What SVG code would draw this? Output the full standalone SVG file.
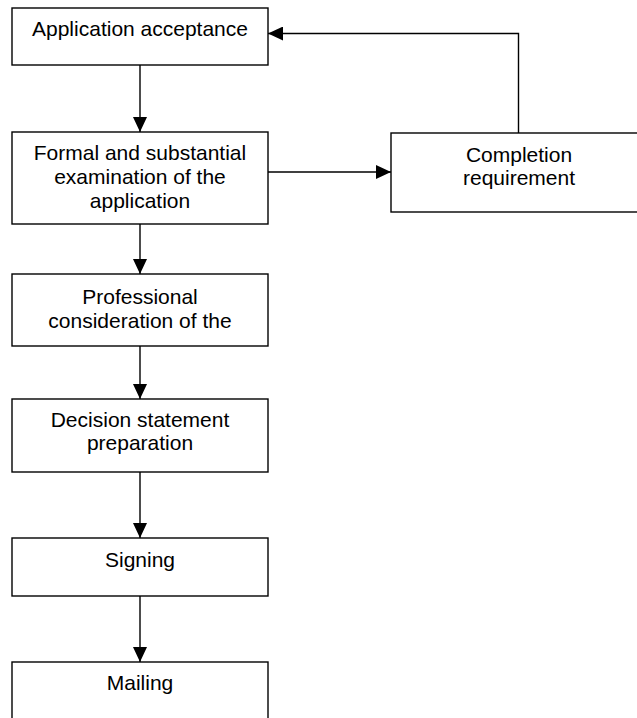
<svg xmlns="http://www.w3.org/2000/svg" width="637" height="718" viewBox="0 0 637 718">
  <style>
    .box { fill: #ffffff; stroke: #000000; stroke-width: 1.4; }
    .lbl { font-family: "Liberation Sans", Arial, sans-serif; font-size: 21px; fill: #000000; text-anchor: middle; }
    .conn { fill: none; stroke: #000000; stroke-width: 1.4; }
  </style>
  <defs>
    <marker id="arrow" viewBox="0 0 15 14" refX="15" refY="7" markerWidth="15" markerHeight="14" markerUnits="userSpaceOnUse" orient="auto">
      <path d="M0,0 L15,7 L0,14 Z" fill="#000000"/>
    </marker>
  </defs>
  <rect width="637" height="718" fill="#ffffff"/>

  <g id="connectors">
    <line class="conn" x1="140" y1="65" x2="140" y2="132" marker-end="url(#arrow)"/>
    <line class="conn" x1="140" y1="224" x2="140" y2="274" marker-end="url(#arrow)"/>
    <line class="conn" x1="140" y1="346" x2="140" y2="399" marker-end="url(#arrow)"/>
    <line class="conn" x1="140" y1="472" x2="140" y2="538" marker-end="url(#arrow)"/>
    <line class="conn" x1="140" y1="596" x2="140" y2="662" marker-end="url(#arrow)"/>
    <line class="conn" x1="268" y1="172" x2="391" y2="172" marker-end="url(#arrow)"/>
    <polyline class="conn" points="518.5,133 518.5,33.5 268,33.5" marker-end="url(#arrow)"/>
  </g>

  <g id="acceptance">
    <rect class="box" x="12" y="8" width="256" height="57"/>
    <text class="lbl" x="140" y="36">Application acceptance</text>
  </g>

  <g id="examination">
    <rect class="box" x="12" y="132" width="256" height="92"/>
    <text class="lbl" x="140" y="160">Formal and substantial</text>
    <text class="lbl" x="140" y="184">examination of the</text>
    <text class="lbl" x="140" y="208">application</text>
  </g>

  <g id="completion">
    <rect class="box" x="391" y="133" width="256" height="79"/>
    <text class="lbl" x="519" y="162">Completion</text>
    <text class="lbl" x="519" y="185">requirement</text>
  </g>

  <g id="consideration">
    <rect class="box" x="12" y="274" width="256" height="72"/>
    <text class="lbl" x="140" y="304">Professional</text>
    <text class="lbl" x="140" y="328">consideration of the</text>
  </g>

  <g id="decision">
    <rect class="box" x="12" y="399" width="256" height="73"/>
    <text class="lbl" x="140" y="427">Decision statement</text>
    <text class="lbl" x="140" y="450">preparation</text>
  </g>

  <g id="signing">
    <rect class="box" x="12" y="538" width="256" height="58"/>
    <text class="lbl" x="140" y="567">Signing</text>
  </g>

  <g id="mailing">
    <rect class="box" x="12" y="662" width="256" height="70"/>
    <text class="lbl" x="140" y="690">Mailing</text>
  </g>
</svg>
